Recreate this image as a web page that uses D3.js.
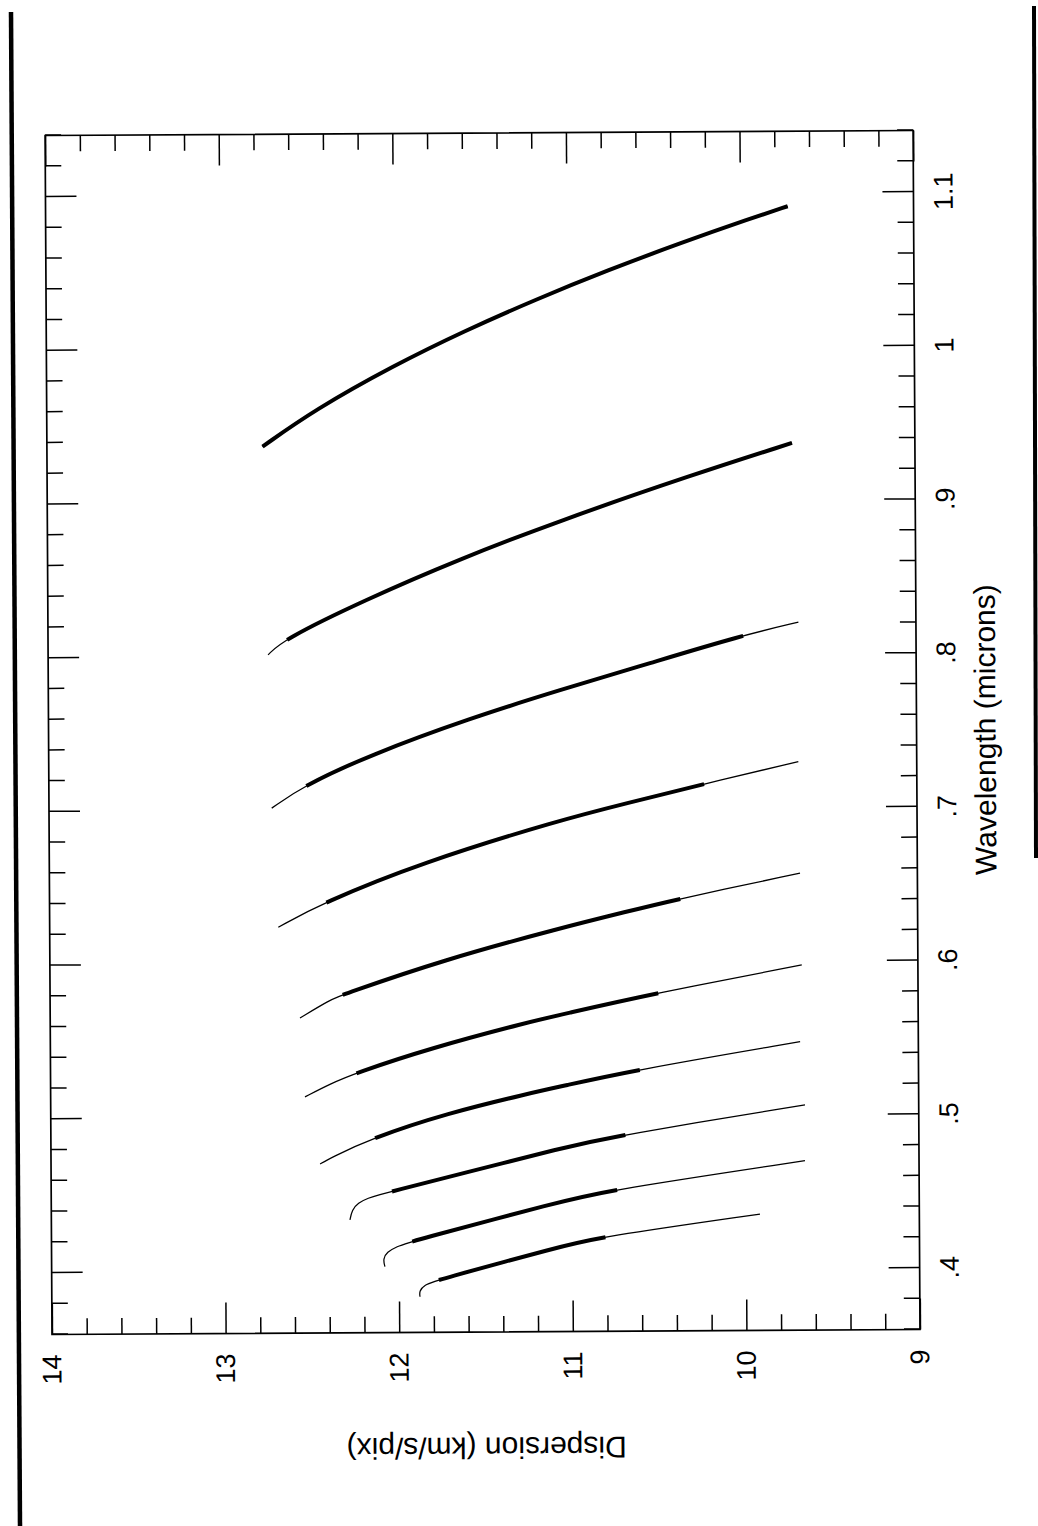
<!DOCTYPE html>
<html><head><meta charset="utf-8">
<script src="https://cdn.jsdelivr.net/npm/d3@7"></script>
<style>
html,body{margin:0;padding:0;background:#fff;}
svg{display:block;}
text{font-family:"Liberation Sans",Arial,Helvetica,sans-serif;fill:#000;}
</style></head><body>
<svg id="chart" width="1038" height="1526"></svg>
<script>
// ---- axes / labels ----
const wavelengthDomain = [0.36, 1.14];
const dispersionDomain = [9, 14];
const wavelengthMajorTicks = [0.4, 0.5, 0.6, 0.7, 0.8, 0.9, 1.0, 1.1];
const wavelengthTickLabels = [".4", ".5", ".6", ".7", ".8", ".9", "1", "1.1"];
const dispersionMajorTicks = [9, 10, 11, 12, 13, 14];
const dispersionTickLabels = ["9", "10", "11", "12", "13", "14"];
const xTitle = "Wavelength (microns)";
const yTitle = "Dispersion (km/s/pix)";

// ---- echelle orders: wavelength (microns) vs dispersion (km/s/pix) ----
const order1Wavelength = [0.9368, 0.9605, 0.9889, 1.0115, 1.0318, 1.0503, 1.0676, 1.0837, 1.0912];
const order1Dispersion = [12.758, 12.457, 12.003, 11.588, 11.173, 10.762, 10.346, 9.930, 9.725];
const order2Wavelength = [0.8013, 0.8110, 0.8367, 0.8630, 0.8876, 0.9170, 0.9372];
const order2Dispersion = [12.733, 12.646, 12.173, 11.624, 11.047, 10.279, 9.708];
const order3Wavelength = [0.7016, 0.7159, 0.7358, 0.7593, 0.7774, 0.7945, 0.8118, 0.8206];
const order3Dispersion = [12.717, 12.534, 12.149, 11.572, 11.052, 10.533, 10.014, 9.677];
const order4Wavelength = [0.6241, 0.6399, 0.6652, 0.6928, 0.7034, 0.7156, 0.7299];
const order4Dispersion = [12.683, 12.423, 11.865, 11.056, 10.672, 10.230, 9.682];
const order5Wavelength = [0.5650, 0.5766, 0.5798, 0.6022, 0.6224, 0.6329, 0.6410, 0.6573];
const order5Dispersion = [12.561, 12.388, 12.320, 11.734, 11.061, 10.676, 10.378, 9.676];
const order6Wavelength = [0.5136, 0.5219, 0.5288, 0.5448, 0.5617, 0.5660, 0.5797, 0.5976];
const order6Dispersion = [12.535, 12.391, 12.246, 11.813, 11.236, 11.063, 10.515, 9.669];
const order7Wavelength = [0.4699, 0.4736, 0.4865, 0.5024, 0.5152, 0.5193, 0.5299, 0.5477];
const order7Dispersion = [12.450, 12.393, 12.152, 11.719, 11.238, 11.066, 10.633, 9.681];
const order8Wavelength = [0.4334, 0.4399, 0.4444, 0.4476, 0.4498, 0.4518, 0.4633, 0.4792, 0.4876, 0.5065];
const order8Dispersion = [12.280, 12.268, 12.233, 12.175, 12.106, 12.037, 11.626, 11.067, 10.722, 9.655];
const order9Wavelength = [0.4029, 0.4079, 0.4124, 0.4158, 0.4191, 0.4445, 0.4519, 0.4703];
const order9Dispersion = [12.080, 12.091, 12.068, 12.012, 11.935, 11.070, 10.781, 9.657];
const order10Wavelength = [0.3832, 0.3869, 0.3908, 0.3940, 0.4152, 0.4212, 0.4357];
const order10Dispersion = [11.879, 11.883, 11.855, 11.782, 11.071, 10.850, 9.918];

// free spectral range of each order (drawn thick)
const thickStart = [0.9368, 0.8110, 0.7159, 0.6399, 0.5798, 0.5288, 0.4865, 0.4518, 0.4191, 0.3940];
const thickEnd   = [1.0912, 0.9372, 0.8118, 0.7156, 0.6410, 0.5797, 0.5299, 0.4876, 0.4519, 0.4212];

const orders = [
  [order1Wavelength, order1Dispersion], [order2Wavelength, order2Dispersion],
  [order3Wavelength, order3Dispersion], [order4Wavelength, order4Dispersion],
  [order5Wavelength, order5Dispersion], [order6Wavelength, order6Dispersion],
  [order7Wavelength, order7Dispersion], [order8Wavelength, order8Dispersion],
  [order9Wavelength, order9Dispersion], [order10Wavelength, order10Dispersion]
];

// ---- layout (chart is drawn rotated 90deg counter-clockwise on the page) ----
const W = 1199, H = 868;
const FONT = '"Liberation Sans", Arial, Helvetica, sans-serif';
const svg = d3.select("#chart");

// page edge marks of the scanned sheet
svg.append("line").attr("x1", 11).attr("y1", 12).attr("x2", 20).attr("y2", 1526)
  .attr("stroke", "#000").attr("stroke-width", 4.5);
svg.append("line").attr("x1", 1034).attr("y1", 6).attr("x2", 1036).attr("y2", 858)
  .attr("stroke", "#000").attr("stroke-width", 4);

const g = svg.append("g")
  .attr("transform", "rotate(-0.33,920,1329.5) translate(52,1329.5) rotate(-90)");

const x = d3.scaleLinear().domain(wavelengthDomain).range([0, W]);
const y = d3.scaleLinear().domain(dispersionDomain).range([H, 0]);

const near = (a, b) => Math.abs(a - b) < 1e-6;
const wavelengthMinorTicks = d3.range(0.36, 1.1401, 0.02).map(v => +v.toFixed(2))
  .filter(v => !wavelengthMajorTicks.some(m => near(m, v)));
const dispersionMinorTicks = d3.range(9, 14.001, 0.2).map(v => +v.toFixed(1))
  .filter(v => !dispersionMajorTicks.some(m => near(m, v)));

function styleAxis(sel) {
  sel.select(".domain").remove();
  sel.selectAll(".tick line").attr("stroke", "#000").attr("stroke-width", 1.5);
  sel.selectAll(".tick text").attr("font-size", 27).attr("font-family", FONT).attr("fill", "#000");
  sel.attr("font-family", FONT);
}

// bottom (wavelength) axis
g.append("g").attr("transform", `translate(0,${H})`)
  .call(d3.axisBottom(x).tickValues(wavelengthMajorTicks)
    .tickFormat((d, i) => wavelengthTickLabels[i]).tickSize(-31).tickPadding(20))
  .call(styleAxis);
g.append("g").attr("transform", `translate(0,${H})`)
  .call(d3.axisBottom(x).tickValues(wavelengthMinorTicks).tickFormat("").tickSize(-16))
  .call(styleAxis);
// top mirror
g.append("g")
  .call(d3.axisTop(x).tickValues(wavelengthMajorTicks).tickFormat("").tickSize(-31))
  .call(styleAxis);
g.append("g")
  .call(d3.axisTop(x).tickValues(wavelengthMinorTicks).tickFormat("").tickSize(-16))
  .call(styleAxis);
// left (dispersion) axis
g.append("g")
  .call(d3.axisLeft(y).tickValues(dispersionMajorTicks)
    .tickFormat((d, i) => dispersionTickLabels[i]).tickSize(-31).tickPadding(20))
  .call(styleAxis);
g.append("g")
  .call(d3.axisLeft(y).tickValues(dispersionMinorTicks).tickFormat("").tickSize(-16))
  .call(styleAxis);
// right mirror
g.append("g").attr("transform", `translate(${W},0)`)
  .call(d3.axisRight(y).tickValues(dispersionMajorTicks).tickFormat("").tickSize(-31))
  .call(styleAxis);
g.append("g").attr("transform", `translate(${W},0)`)
  .call(d3.axisRight(y).tickValues(dispersionMinorTicks).tickFormat("").tickSize(-16))
  .call(styleAxis);

// frame
g.append("rect").attr("x", 0).attr("y", 0).attr("width", W).attr("height", H)
  .attr("fill", "none").attr("stroke", "#000").attr("stroke-width", 1.7);

// axis titles
g.append("text").attr("x", W / 2).attr("y", H + 79).attr("text-anchor", "middle")
  .attr("font-size", 30).text(xTitle);
g.append("text").attr("transform", `translate(-105.5,${H / 2}) rotate(-90)`)
  .attr("text-anchor", "middle").attr("font-size", 30).text(yTitle);

// curves
const line = d3.line().x(p => x(p[0])).y(p => y(p[1])).curve(d3.curveBasis);

function lengthAtX(node, targetX) {
  const total = node.getTotalLength();
  let lo = 0, hi = total;
  for (let k = 0; k < 40; k++) {
    const mid = (lo + hi) / 2;
    if (node.getPointAtLength(mid).x < targetX) lo = mid; else hi = mid;
  }
  return (lo + hi) / 2;
}

const curves = g.append("g");
orders.forEach(([w, d], i) => {
  const pts = d3.zip(w, d);
  const dStr = line(pts);
  const thin = curves.append("path").attr("d", dStr).attr("fill", "none")
    .attr("stroke", "#000").attr("stroke-width", 1.25);
  const node = thin.node();
  const total = node.getTotalLength();
  const L1 = thickStart[i] <= w[0] + 1e-6 ? 0 : lengthAtX(node, x(thickStart[i]));
  const L2 = thickEnd[i] >= w[w.length - 1] - 1e-6 ? total : lengthAtX(node, x(thickEnd[i]));
  curves.append("path").attr("d", dStr).attr("fill", "none")
    .attr("stroke", "#000").attr("stroke-width", 4).attr("stroke-linecap", "butt")
    .attr("stroke-dasharray", `0 ${L1} ${Math.max(0, L2 - L1)} ${total + 20}`);
});
</script>
</body></html>
